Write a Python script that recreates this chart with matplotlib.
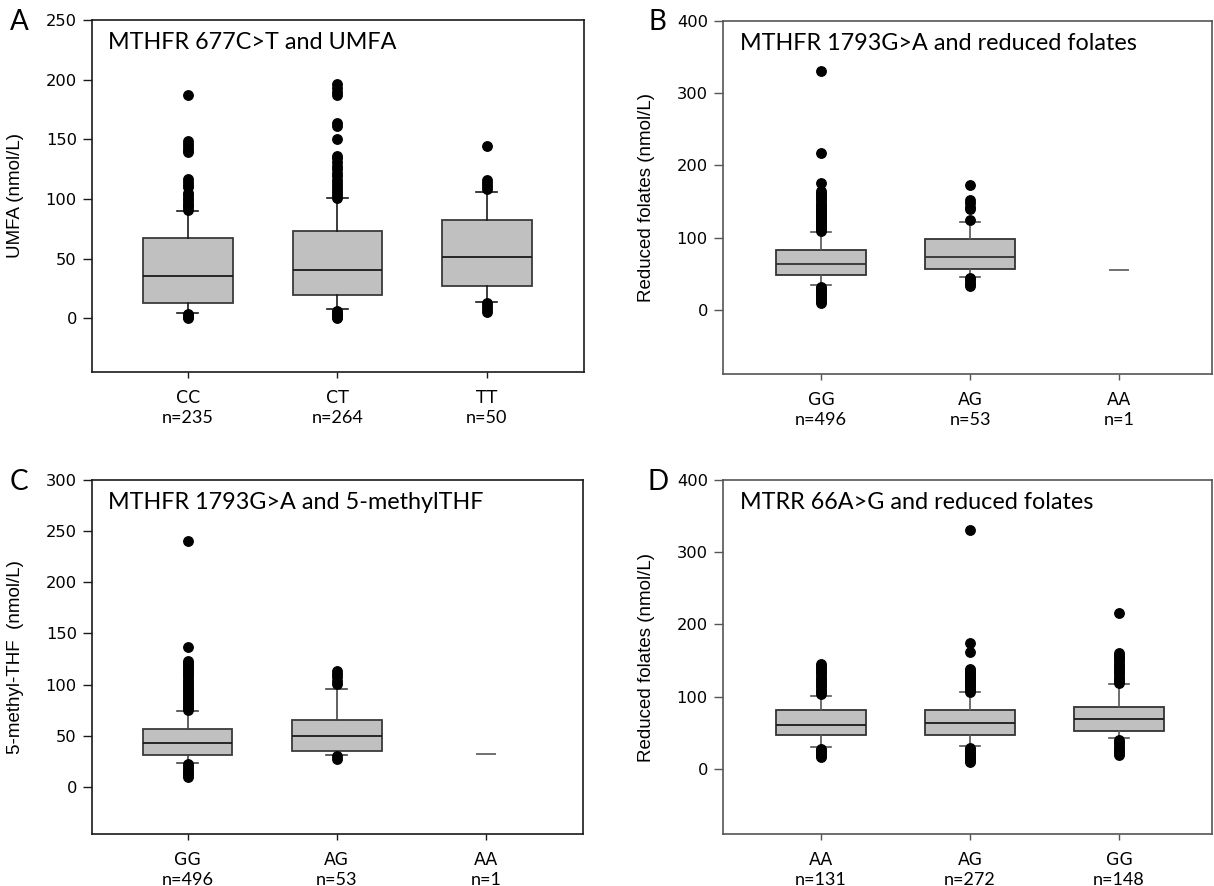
import matplotlib
matplotlib.use('Agg')
import matplotlib.pyplot as plt
from matplotlib.transforms import ScaledTranslation

# ---------------- data ----------------
# Panel A: MTHFR 677C>T and UMFA
A_cats = ['CC', 'CT', 'TT']
A_n = ['n=235', 'n=264', 'n=50']
A_q1 = [12.5, 19.3, 27.1]
A_med = [35.7, 40.2, 51.7]
A_q3 = [67.3, 73.4, 82.4]
A_lo = [4.2, 7.5, 13.4]
A_hi = [90.0, 100.8, 106.1]
A_fl_CC = [0.3, 1.0, 1.8, 2.6, 3.4, 91, 93, 95, 97, 99, 101, 103, 105, 110, 112, 114.5, 117,
           139, 141, 143.5, 146, 149, 187]
A_fl_CT = [0.2, 1.2, 2.4, 3.6, 5.0, 6.4, 101, 103, 105.5, 108, 110.5, 113, 116, 119, 122, 125,
           128, 131, 134, 136, 150, 161, 164, 187, 189.5, 193, 196]
A_fl_TT = [5.5, 8.0, 10.5, 12.5, 108.5, 111, 113.5, 116, 144]

# Panel B: MTHFR 1793G>A and reduced folates
B_cats = ['GG', 'AG', 'AA']
B_n = ['n=496', 'n=53', 'n=1']
B_q1 = [48.0, 56.5]
B_med = [64.0, 72.5]
B_q3 = [83.0, 98.5]
B_lo = [34.0, 45.5]
B_hi = [107.5, 121.3]
B_single = 55.5
B_fl_GG = [10, 12, 14, 16, 18, 20, 22, 24, 26, 28, 30, 32,
           109, 111, 113, 115, 117, 119, 121, 123, 125, 127, 129, 131, 133, 135, 137, 139,
           141, 143, 145, 147, 150, 153, 156, 159, 162, 165, 175, 217, 331]
B_fl_AG = [33, 36, 39, 42, 44, 125, 140, 143, 148, 152, 173]

# Panel C: MTHFR 1793G>A and 5-methylTHF
C_cats = ['GG', 'AG', 'AA']
C_n = ['n=496', 'n=53', 'n=1']
C_q1 = [31.5, 35.5]
C_med = [42.5, 50.0]
C_q3 = [57.0, 65.5]
C_lo = [23.0, 31.0]
C_hi = [74.0, 95.5]
C_single = 32.0
C_fl_GG = [10, 12, 14, 16, 18, 20, 22,
           75, 77, 79, 81, 83, 85, 87, 89, 91, 93, 95, 97, 99, 101, 103, 105, 107, 109, 111,
           113, 115, 117, 119, 121, 123, 137, 240]
C_fl_AG = [27.5, 30.0, 101, 104, 107, 110, 113]

# Panel D: MTRR 66A>G and reduced folates
D_cats = ['AA', 'AG', 'GG']
D_n = ['n=131', 'n=272', 'n=148']
D_q1 = [46.5, 46.5, 53.0]
D_med = [61.0, 63.0, 69.5]
D_q3 = [82.0, 81.3, 86.0]
D_lo = [31.0, 31.5, 42.5]
D_hi = [101.0, 106.0, 117.0]
D_fl_AA = [16, 18, 20, 22, 24, 26, 28,
           104, 107, 110, 113, 116, 119, 122, 125, 128, 131, 134, 137, 140, 143, 146]
D_fl_AG = [9, 11, 13, 15, 17, 19, 21, 23, 25, 27, 29,
           107, 109, 111, 113, 115, 117, 119, 121, 123, 125, 127, 129, 131, 133, 135, 137, 139,
           162, 174, 331]
D_fl_GG = [19, 22, 25, 28, 31, 34, 37, 40,
           119, 122, 125, 128, 131, 134, 137, 140, 143, 146, 149, 152, 155, 158, 161, 216]

# ---------------- figure ----------------
W, H, DPI = 1214, 886, 100
fig = plt.figure(figsize=(W / DPI, H / DPI), dpi=DPI)
fig.patch.set_facecolor('white')

TITLE_FONT = ['Lato', 'DejaVu Sans']
TICK_FONT = ['DejaVu Sans']
LABEL_FONT = ['Liberation Sans', 'DejaVu Sans']


def px_off(dx, dy):
    return ScaledTranslation(dx / DPI, dy / DPI, fig.dpi_scale_trans)


def make_stats(q1, med, q3, lo, hi, fliers):
    out = []
    for i in range(len(q1)):
        out.append(dict(q1=q1[i], med=med[i], q3=q3[i], whislo=lo[i], whishi=hi[i],
                        fliers=fliers[i]))
    return out


panels = [
    dict(letter='A', box=(92, 20, 584, 372), title='MTHFR 677C>T and UMFA',
         ylabel='UMFA (nmol/L)', ylim=(-45, 250), yticks=[0, 50, 100, 150, 200, 250],
         xlim=(0.358, 3.65), cats=A_cats, ns=A_n,
         stats=make_stats(A_q1, A_med, A_q3, A_lo, A_hi, [A_fl_CC, A_fl_CT, A_fl_TT]),
         single=None, spine='#1a1a1a', edge='#3a3a3a', whisk='#1a1a1a', median='#1a1a1a',
         letter_xy=(19, 22)),
    dict(letter='B', box=(723, 21, 1212, 374), title='MTHFR 1793G>A and reduced folates',
         ylabel='Reduced folates (nmol/L)', ylim=(-89, 400), yticks=[0, 100, 200, 300, 400],
         xlim=(0.342, 3.624), cats=B_cats, ns=B_n,
         stats=make_stats(B_q1, B_med, B_q3, B_lo, B_hi, [B_fl_GG, B_fl_AG]),
         single=B_single, spine='#555555', edge='#333333', whisk='#555555', median='#333333',
         letter_xy=(657, 22)),
    dict(letter='C', box=(92, 480, 583, 834), title='MTHFR 1793G>A and 5-methylTHF',
         ylabel='5-methyl-THF  (nmol/L)', ylim=(-46, 300), yticks=[0, 50, 100, 150, 200, 250, 300],
         xlim=(0.358, 3.65), cats=C_cats, ns=C_n,
         stats=make_stats(C_q1, C_med, C_q3, C_lo, C_hi, [C_fl_GG, C_fl_AG]),
         single=C_single, spine='#1a1a1a', edge='#3a3a3a', whisk='#444444', median='#1a1a1a',
         letter_xy=(19, 482)),
    dict(letter='D', box=(723, 480, 1212, 834), title='MTRR 66A>G and reduced folates',
         ylabel='Reduced folates (nmol/L)', ylim=(-90, 400), yticks=[0, 100, 200, 300, 400],
         xlim=(0.342, 3.624), cats=D_cats, ns=D_n,
         stats=make_stats(D_q1, D_med, D_q3, D_lo, D_hi, [D_fl_AA, D_fl_AG, D_fl_GG]),
         single=None, spine='#555555', edge='#333333', whisk='#555555', median='#1a1a1a',
         letter_xy=(658, 482)),
]

for p in panels:
    l, t, r, b = p['box']
    ax = fig.add_axes([l / W, 1 - b / H, (r - l) / W, (b - t) / H])
    positions = list(range(1, len(p['stats']) + 1))
    ax.bxp(p['stats'], positions=positions, widths=0.6, capwidths=0.14,
           patch_artist=True, manage_ticks=False,
           boxprops=dict(facecolor='#c0c0c0', edgecolor=p['edge'], linewidth=1.3),
           medianprops=dict(color=p['median'], linewidth=1.3),
           whiskerprops=dict(color=p['whisk'], linewidth=1.2),
           capprops=dict(color=p['whisk'], linewidth=1.2),
           flierprops=dict(marker='o', markerfacecolor='black', markeredgecolor='black',
                           markersize=6.8, linestyle='none'))
    if p['single'] is not None:
        ax.hlines(p['single'], 3 - 0.07, 3 + 0.07, colors='#666666', linewidth=1.3)

    ax.set_xlim(*p['xlim'])
    ax.set_ylim(*p['ylim'])
    ax.set_yticks(p['yticks'])
    ax.set_yticklabels([str(v) for v in p['yticks']], fontfamily=TICK_FONT, fontsize=11.7)
    ax.set_xticks([1, 2, 3])
    ax.set_xticklabels([])
    ax.tick_params(axis='y', direction='out', length=6.3, width=1.0, pad=4.6,
                   colors=p['spine'], labelcolor='black')
    ax.tick_params(axis='x', direction='out', length=4.3, width=1.0, colors=p['spine'])
    for s in ax.spines.values():
        s.set_color(p['spine'])
        s.set_linewidth(1.2)

    # category labels (two lines)
    xtr = ax.get_xaxis_transform()
    for i, (c, n) in enumerate(zip(p['cats'], p['ns'])):
        ax.text(i + 1, 0, c, transform=xtr + px_off(0, -26), ha='center', va='center',
                fontfamily=TICK_FONT, fontsize=12.5, color='black')
        ax.text(i + 1, 0, n, transform=xtr + px_off(0, -46), ha='center', va='center',
                fontfamily=TITLE_FONT, fontsize=13, color='black')

    # y label
    ax.set_ylabel(p['ylabel'], fontfamily=LABEL_FONT, fontsize=13.5)
    ax.yaxis.set_label_coords(-68 / (r - l), 0.5)

    # in-axes title
    ax.text(0, 1, p['title'], transform=ax.transAxes + px_off(16.5, -29), ha='left',
            va='baseline', fontfamily=TITLE_FONT, fontsize=16.8, color='black')

    # panel letter
    lx, ly = p['letter_xy']
    fig.text(lx / W, 1 - ly / H, p['letter'], ha='center', va='center',
             fontfamily=TITLE_FONT, fontsize=20, color='black')

fig.savefig('out.png', dpi=DPI, facecolor='white')
